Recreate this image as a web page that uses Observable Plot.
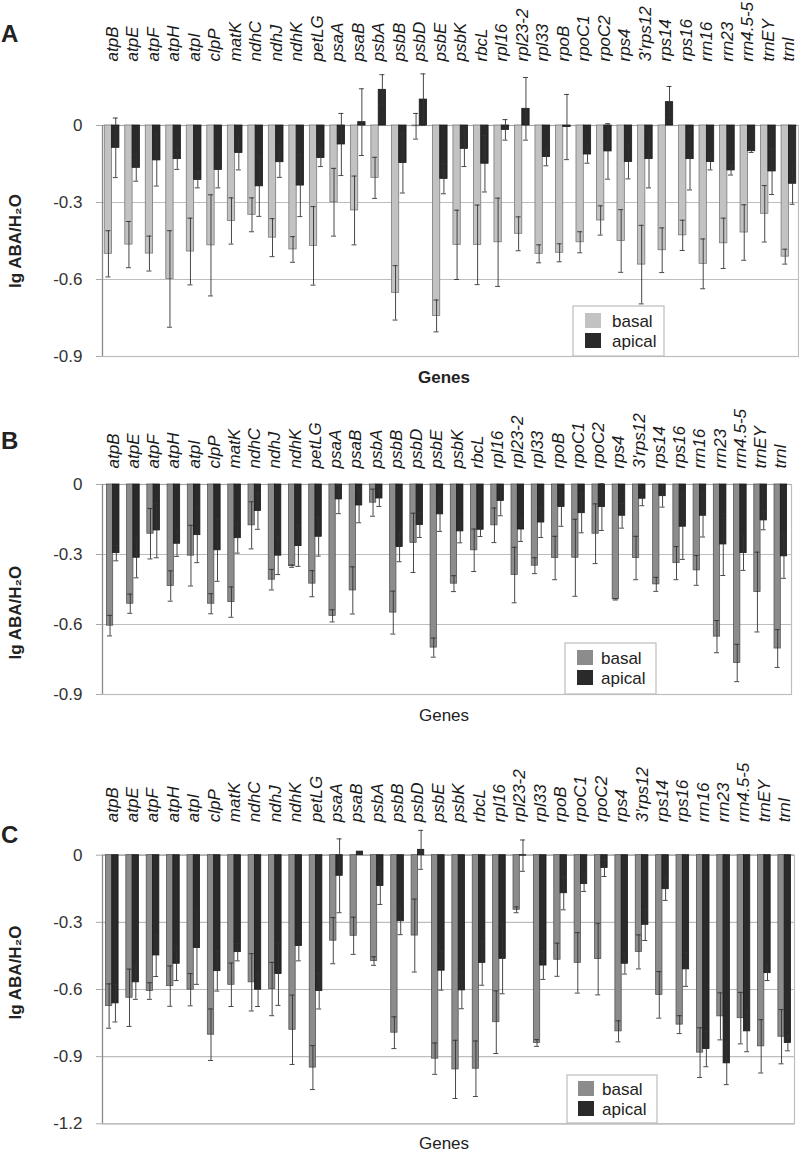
<!DOCTYPE html>
<html>
<head>
<meta charset="utf-8">
<script src="https://cdn.jsdelivr.net/npm/d3@7"></script>
<script src="https://cdn.jsdelivr.net/npm/@observablehq/plot@0.6"></script>
<style>
  body { margin: 0; background: #fff; }
  #wrap { position: relative; width: 799px; height: 1155px; overflow: hidden; font-family: "Liberation Sans", Arial, sans-serif; }
  .panel { position: absolute; left: 0; }
  #overlay { position: absolute; left: 0; top: 0; pointer-events: none; }
</style>
</head>
<body>
<div id="wrap"></div>
<script>
const genes = ["atpB","atpE","atpF","atpH","atpI","clpP","matK","ndhC","ndhJ","ndhK","petLG","psaA","psaB","psbA","psbB","psbD","psbE","psbK","rbcL","rpl16","rpl23-2","rpl33","rpoB","rpoC1","rpoC2","rps4","3'rps12","rps14","rps16","rrn16","rrn23","rrn4.5-5","trnEY","trnI"];
const seriesNames = ["basal", "apical"];

// Panel A
const basalA    = [-0.50,-0.464,-0.499,-0.598,-0.491,-0.467,-0.372,-0.348,-0.437,-0.483,-0.469,-0.299,-0.331,-0.204,-0.652,-0.003,-0.742,-0.465,-0.465,-0.455,-0.422,-0.50,-0.496,-0.455,-0.37,-0.45,-0.542,-0.486,-0.428,-0.539,-0.459,-0.417,-0.344,-0.511];
const basalErrA = [0.09,0.09,0.068,0.188,0.13,0.197,0.09,0.066,0.074,0.05,0.153,0.132,0.134,0.08,0.106,0.05,0.062,0.135,0.155,0.172,0.066,0.035,0.035,0.041,0.057,0.122,0.153,0.087,0.059,0.097,0.098,0.108,0.11,0.029];
const apicalA    = [-0.087,-0.165,-0.136,-0.131,-0.212,-0.173,-0.107,-0.237,-0.143,-0.234,-0.127,-0.074,0.013,0.139,-0.146,0.101,-0.208,-0.091,-0.149,-0.017,0.065,-0.123,-0.006,-0.113,-0.101,-0.142,-0.131,0.091,-0.131,-0.142,-0.175,-0.10,-0.179,-0.227];
const apicalErrA = [0.116,0.052,0.1,0.04,0.031,0.07,0.066,0.117,0.059,0.121,0.033,0.121,0.13,0.059,0.117,0.1,0.058,0.069,0.11,0.04,0.122,0.034,0.127,0.034,0.108,0.066,0.112,0.061,0.12,0.031,0.018,0.005,0.09,0.08];

// Panel B
const basalB    = [-0.605,-0.511,-0.211,-0.435,-0.305,-0.511,-0.504,-0.175,-0.408,-0.35,-0.425,-0.563,-0.454,-0.078,-0.549,-0.25,-0.699,-0.425,-0.282,-0.175,-0.388,-0.348,-0.315,-0.314,-0.211,-0.492,-0.315,-0.428,-0.337,-0.368,-0.652,-0.765,-0.461,-0.703];
const basalErrB = [0.044,0.041,0.108,0.065,0.13,0.043,0.065,0.101,0.044,0.005,0.056,0.026,0.101,0.058,0.092,0.127,0.041,0.034,0.091,0.074,0.119,0.034,0.093,0.165,0.128,0.003,0.093,0.03,0.071,0.064,0.069,0.08,0.171,0.081];
const apicalB    = [-0.294,-0.314,-0.197,-0.254,-0.217,-0.282,-0.23,-0.114,-0.305,-0.264,-0.224,-0.064,-0.09,-0.06,-0.268,-0.174,-0.128,-0.201,-0.194,-0.071,-0.193,-0.163,-0.096,-0.123,-0.097,-0.134,-0.061,-0.05,-0.181,-0.134,-0.257,-0.294,-0.154,-0.308];
const apicalErrB = [0.033,0.086,0.117,0.054,0.118,0.133,0.064,0.078,0.081,0.087,0.083,0.061,0.074,0.034,0.063,0.053,0.073,0.049,0.029,0.063,0.051,0.064,0.083,0.084,0.1,0.053,0.03,0.047,0.14,0.091,0.133,0.074,0.04,0.094];

// Panel C
const basalC    = [-0.674,-0.637,-0.607,-0.585,-0.601,-0.802,-0.579,-0.568,-0.598,-0.78,-0.949,-0.382,-0.36,-0.473,-0.793,-0.359,-0.909,-0.957,-0.954,-0.746,-0.244,-0.839,-0.467,-0.481,-0.464,-0.787,-0.432,-0.624,-0.757,-0.882,-0.72,-0.728,-0.854,-0.811];
const basalErrC = [0.099,0.128,0.037,0.09,0.072,0.115,0.097,0.128,0.119,0.155,0.098,0.103,0.083,0.019,0.071,0.163,0.07,0.13,0.124,0.14,0.013,0.015,0.074,0.135,0.16,0.047,0.076,0.104,0.04,0.111,0.105,0.115,0.119,0.121];
const apicalC    = [-0.662,-0.568,-0.448,-0.485,-0.415,-0.518,-0.433,-0.601,-0.531,-0.406,-0.607,-0.092,0.016,-0.138,-0.295,0.024,-0.516,-0.604,-0.481,-0.463,-0.002,-0.493,-0.17,-0.129,-0.057,-0.485,-0.311,-0.152,-0.51,-0.866,-0.93,-0.787,-0.527,-0.839];
const apicalErrC = [0.083,0.076,0.094,0.075,0.162,0.089,0.039,0.075,0.14,0.066,0.08,0.165,0,0.082,0.06,0.087,0.087,0.082,0.1,0.156,0.07,0.062,0.074,0.033,0.038,0.046,0.07,0.05,0.076,0.079,0.095,0.091,0.033,0.035];

const yTicksA = [0, -0.3, -0.6, -0.9];
const yTicksB = [0, -0.3, -0.6, -0.9];
const yTicksC = [0, -0.3, -0.6, -0.9, -1.2];
const yTitle = "lg ABA/H\u2082O";
const xTitle = "Genes";

const FONT = "'Liberation Sans', Arial, sans-serif";
const W = 799;

function panel(cfg) {
  const n = genes.length;
  const step = (W - cfg.mLeft - cfg.mRight) / (n - cfg.pi + 2 * cfg.po);
  const bw = step * (1 - cfg.pi);
  const leftEdge = cfg.po * step + bw / 2; // from first band centre to frame left
  const cap = 5;
  const rows = genes.map((g, i) => ({gene: g, b: cfg.basal[i], be: cfg.basalErr[i], a: cfg.apical[i], ae: cfg.apicalErr[i]}));
  const errColor = "#333";
  const plot = Plot.plot({
    width: W,
    height: cfg.height,
    marginTop: cfg.mTop,
    marginBottom: cfg.mBottom,
    marginLeft: cfg.mLeft,
    marginRight: cfg.mRight,
    x: {type: "band", domain: genes, paddingInner: cfg.pi, paddingOuter: cfg.po, round: false, axis: null},
    y: {domain: [cfg.ticks[cfg.ticks.length - 1], 0], axis: null},
    style: {fontFamily: FONT, background: "transparent", overflow: "visible"},
    marks: [
      Plot.ruleY(cfg.ticks.slice(1), {stroke: "#bdbdbd", strokeWidth: 1.2}),
      Plot.frame({stroke: "#bdbdbd", strokeWidth: 1.2}),
      Plot.ruleY([0], {stroke: "#a8a8a8", strokeWidth: 1.2}),
      Plot.ruleX([genes[0]], {dx: -leftEdge, stroke: "#8a8a8a", strokeWidth: 1.2}),
      Plot.axisY({ticks: cfg.ticks, tickFormat: d => d === 0 ? "0" : String(d), tickSize: 6, tickPadding: 14,
        fontSize: 17, stroke: "#aaa", fill: "#333", label: null}),
      Plot.axisX({anchor: "top", tickRotate: -90, tickSize: 0, tickPadding: cfg.tickPad, fontSize: 17,
        fontStyle: "italic", fill: "#1a1a1a", label: null}),
      Plot.barY(rows, {x: "gene", y: "b", fill: cfg.basalFill, stroke: cfg.basalStroke, strokeWidth: 0.8, insetRight: bw / 2}),
      Plot.barY(rows, {x: "gene", y: "a", fill: "#2a2a2a", stroke: "#1a1a1a", strokeWidth: 0.8, insetLeft: bw / 2}),
      Plot.ruleX(rows.filter(d => d.be > 0), {x: "gene", y1: d => d.b - d.be, y2: d => d.b + d.be, dx: -bw / 4, stroke: errColor, strokeWidth: 0.9}),
      Plot.tickY(rows.filter(d => d.be > 0), {x: "gene", y: d => d.b - d.be, insetLeft: bw / 4 - cap / 2, insetRight: 3 * bw / 4 - cap / 2, stroke: errColor, strokeWidth: 0.9}),
      Plot.tickY(rows.filter(d => d.be > 0), {x: "gene", y: d => d.b + d.be, insetLeft: bw / 4 - cap / 2, insetRight: 3 * bw / 4 - cap / 2, stroke: errColor, strokeWidth: 0.9}),
      Plot.ruleX(rows.filter(d => d.ae > 0), {x: "gene", y1: d => d.a - d.ae, y2: d => d.a + d.ae, dx: bw / 4, stroke: errColor, strokeWidth: 0.9}),
      Plot.tickY(rows.filter(d => d.ae > 0), {x: "gene", y: d => d.a - d.ae, insetLeft: 3 * bw / 4 - cap / 2, insetRight: bw / 4 - cap / 2, stroke: errColor, strokeWidth: 0.9}),
      Plot.tickY(rows.filter(d => d.ae > 0), {x: "gene", y: d => d.a + d.ae, insetLeft: 3 * bw / 4 - cap / 2, insetRight: bw / 4 - cap / 2, stroke: errColor, strokeWidth: 0.9}),
      Plot.text([yTitle], {frameAnchor: "left", y: [cfg.titleY], text: d => d, rotate: -90, dx: 15.5 - cfg.mLeft,
        fontSize: 17, fontWeight: "bold", fill: "#222", lineAnchor: "middle", textAnchor: "middle"})
    ]
  });
  plot.classList.add("panel");
  plot.style.top = cfg.top + "px";
  return plot;
}

const wrap = document.getElementById("wrap");
wrap.appendChild(panel({top: 0, height: 400, mTop: 125, mBottom: 44, mLeft: 102, mRight: 1, pi: 0.285, po: 0.11,
  ticks: yTicksA, basal: basalA, basalErr: basalErrA, apical: apicalA, apicalErr: apicalErrA,
  basalFill: "#c2c2c2", basalStroke: "#7a7a7a", tickPad: 64, titleY: -0.45}));
wrap.appendChild(panel({top: 400, height: 340, mTop: 84, mBottom: 46, mLeft: 102, mRight: 8, pi: 0.378, po: 0.217,
  ticks: yTicksB, basal: basalB, basalErr: basalErrB, apical: apicalB, apicalErr: apicalErrB,
  basalFill: "#8c8c8c", basalStroke: "#555", tickPad: 16, titleY: -0.549}));
wrap.appendChild(panel({top: 740, height: 415, mTop: 114.7, mBottom: 31.7, mLeft: 102, mRight: 5, pi: 0.38, po: 0.17,
  ticks: yTicksC, basal: basalC, basalErr: basalErrC, apical: apicalC, apicalErr: apicalErrC,
  basalFill: "#8c8c8c", basalStroke: "#555", tickPad: 33, titleY: -0.524}));

// Overlay: panel letters, x titles, legends
const NS = "http://www.w3.org/2000/svg";
const ov = document.createElementNS(NS, "svg");
ov.setAttribute("id", "overlay");
ov.setAttribute("width", W);
ov.setAttribute("height", 1155);
ov.style.fontFamily = FONT;
wrap.appendChild(ov);
function el(tag, attrs, txt) {
  const e = document.createElementNS(NS, tag);
  for (const k in attrs) e.setAttribute(k, attrs[k]);
  if (txt != null) e.textContent = txt;
  ov.appendChild(e);
  return e;
}
const letters = [["A", 42], ["B", 449], ["C", 843]];
for (const [t, y] of letters) el("text", {x: 1, y, "font-size": 24, "font-weight": "bold", fill: "#222"}, t);
el("text", {x: 444, y: 383, "font-size": 17, "font-weight": "bold", "text-anchor": "middle", fill: "#222"}, xTitle);
el("text", {x: 444, y: 721, "font-size": 17, "text-anchor": "middle", fill: "#222"}, xTitle);
el("text", {x: 444, y: 1149, "font-size": 17, "text-anchor": "middle", fill: "#222"}, xTitle);

function legend(x, y, w, h, sx, sy, tx, basalColor) {
  el("rect", {x, y, width: w, height: h, fill: "#fff", stroke: "#bdbdbd", "stroke-width": 1.2});
  const cols = [basalColor, "#2a2a2a"];
  seriesNames.forEach((s, i) => {
    el("rect", {x: sx, y: sy + i * 20, width: 16, height: 15, fill: cols[i]});
    el("text", {x: tx, y: sy + i * 20 + 13.5, "font-size": 17, fill: "#222"}, s);
  });
}
legend(573, 306, 91, 50, 585, 313, 612, "#c2c2c2");
legend(565, 643, 91, 51, 577, 650, 601, "#8c8c8c");
legend(567, 1075, 90, 48, 578, 1081, 602, "#8c8c8c");
</script>
</body>
</html>
